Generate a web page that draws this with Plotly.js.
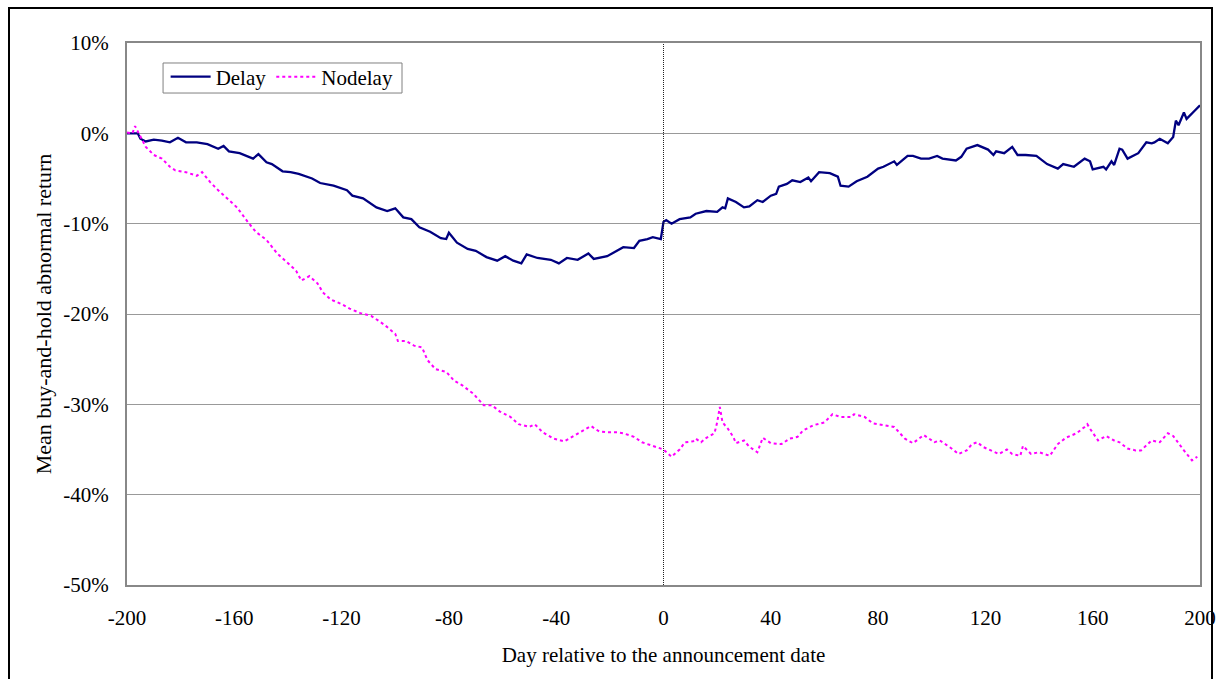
<!DOCTYPE html>
<html>
<head>
<meta charset="utf-8">
<script src="https://cdn.plot.ly/plotly-3.0.1.min.js"></script>
<style>
html,body{margin:0;padding:0;background:#fff;overflow:hidden;}
#chart{width:1216px;height:679px;}
#frame{position:absolute;left:8px;top:7px;width:1201px;height:700px;border:2px solid #000;border-bottom:none;pointer-events:none;}
</style>
</head>
<body>
<div id="chart"></div>
<div id="frame"></div>
<script>
// Delay series (day, mean BHAR in %)
const delayDays = [-200,-196,-195,-193,-190,-187,-184,-181,-178,-174,-170,-166,-164,-162,-158,-153,-151,-148,-146,-142,-139,-136,-131,-128,-123,-118,-116,-112,-107,-103,-100,-97,-94,-91,-87,-83,-81,-80,-77,-73,-70,-66,-62,-59,-56,-53,-51,-47,-42,-39,-36,-32,-28,-26,-21,-18,-15,-11,-9,-6,-4,-1,0,1,3,6,10,12,16,20,22,23,24,27,30,32,35,37,40,42,43,46,48,51,54,55,58,62,65,66,69,72,76,80,82,86,87,89,91,93,96,99,102,104,109,111,113,117,121,123,124,127,130,132,135,139,143,147,149,153,157,159,160,164,165,167,168,170,171,173,177,180,182,183,185,188,190,191,192,194,195,198,200];
const delayValues = [0.0,0.0,-0.6,-0.9,-0.7,-0.8,-1.0,-0.5,-1.0,-1.0,-1.2,-1.7,-1.4,-2.0,-2.2,-2.8,-2.3,-3.2,-3.4,-4.2,-4.3,-4.5,-5.0,-5.5,-5.8,-6.3,-6.9,-7.2,-8.2,-8.6,-8.3,-9.3,-9.5,-10.4,-10.9,-11.6,-11.7,-11.0,-12.1,-12.8,-13.0,-13.7,-14.1,-13.6,-14.1,-14.4,-13.4,-13.8,-14.0,-14.4,-13.8,-14.0,-13.3,-13.9,-13.6,-13.1,-12.6,-12.7,-11.9,-11.7,-11.5,-11.7,-9.8,-9.6,-10.0,-9.5,-9.3,-8.9,-8.6,-8.7,-8.2,-8.3,-7.2,-7.6,-8.2,-8.1,-7.4,-7.6,-6.9,-6.7,-5.9,-5.6,-5.2,-5.4,-4.9,-5.3,-4.3,-4.4,-4.8,-5.8,-5.9,-5.3,-4.8,-3.9,-3.7,-3.1,-3.5,-3.0,-2.5,-2.5,-2.8,-2.8,-2.5,-2.8,-3.0,-2.6,-1.7,-1.3,-1.8,-2.4,-2.0,-2.2,-1.5,-2.4,-2.4,-2.5,-3.4,-3.9,-3.4,-3.7,-2.8,-3.1,-4.0,-3.7,-4.0,-3.1,-3.5,-1.7,-1.8,-2.8,-2.2,-1.0,-1.1,-1.0,-0.6,-1.1,-0.4,1.4,0.9,2.3,1.6,2.5,3.1];

// Nodelay series (day, mean BHAR in %)
const nodelayDays = [-200,-198,-197,-195,-193,-190,-187,-184,-182,-178,-174,-172,-169,-166,-163,-159,-155,-152,-148,-144,-141,-137,-135,-132,-129,-127,-124,-120,-117,-113,-109,-104,-100,-99,-96,-93,-90,-88,-85,-81,-78,-75,-71,-67,-64,-61,-57,-54,-50,-48,-45,-41,-37,-34,-31,-27,-24,-21,-17,-15,-11,-8,-4,0,3,6,8,11,12,14,16,19,20,21,22,24,26,27,30,32,35,37,40,44,47,50,52,56,60,63,66,70,71,75,78,82,86,90,93,97,101,103,107,110,113,115,117,119,122,125,128,130,133,134,137,140,144,147,150,154,157,158,159,162,165,168,170,173,176,178,182,185,188,190,194,197,199];
const nodelayValues = [0.1,0.0,0.8,-0.4,-1.5,-2.4,-2.8,-3.7,-4.1,-4.3,-4.7,-4.3,-5.4,-6.3,-7.1,-8.2,-9.8,-10.9,-11.8,-13.3,-14.1,-15.2,-16.3,-15.8,-16.6,-17.6,-18.4,-18.9,-19.4,-19.9,-20.2,-21.2,-22.2,-23.0,-23.0,-23.5,-23.7,-25.1,-26.1,-26.4,-27.4,-27.9,-28.8,-30.1,-30.1,-30.8,-31.4,-32.2,-32.5,-32.2,-33.1,-33.8,-34.1,-33.6,-33.1,-32.4,-33.0,-33.1,-33.1,-33.2,-33.6,-34.2,-34.6,-35.0,-35.8,-35.0,-34.2,-34.1,-33.8,-34.2,-33.7,-33.2,-32.0,-30.3,-32.0,-32.7,-33.6,-34.3,-34.0,-34.7,-35.3,-33.7,-34.3,-34.4,-33.8,-33.6,-32.9,-32.3,-32.0,-31.1,-31.4,-31.4,-31.1,-31.4,-32.1,-32.3,-32.5,-33.8,-34.3,-33.4,-34.2,-34.0,-34.8,-35.5,-35.1,-34.4,-34.2,-34.7,-35.1,-35.5,-35.0,-35.5,-35.7,-34.6,-35.5,-35.3,-35.7,-34.4,-33.7,-33.2,-32.5,-32.2,-32.7,-34.0,-33.5,-34.0,-34.2,-34.9,-35.1,-35.1,-34.0,-34.2,-33.2,-33.5,-35.1,-36.2,-35.8];

// Axis ticks
const xTickVals = [-200,-160,-120,-80,-40,0,40,80,120,160,200];
const xTickText = ['-200','-160','-120','-80','-40','0','40','80','120','160','200'];
const yTickVals = [10,0,-10,-20,-30,-40,-50];
const yTickText = ['10%','0%','-10%','-20%','-30%','-40%','-50%'];

const serif = 'Liberation Serif, Times New Roman, serif';

const traces = [
  {x: delayDays, y: delayValues, name: 'Delay', type: 'scatter', mode: 'lines',
   line: {color: '#000080', width: 2.3}},
  {x: nodelayDays, y: nodelayValues, name: 'Nodelay', type: 'scatter', mode: 'lines',
   line: {color: '#ff00ff', width: 2, dash: 'dot'}}
];

const layout = {
  width: 1216, height: 679,
  margin: {l: 127, r: 16, t: 43, b: 94},
  paper_bgcolor: 'rgba(0,0,0,0)', plot_bgcolor: '#fff',
  font: {family: serif, color: '#000', size: 21},
  showlegend: true,
  legend: {orientation: 'h', x: 0.036, y: 0.975, xanchor: 'left', yanchor: 'top',
    borderwidth: 0, bgcolor: 'rgba(0,0,0,0)',
    font: {family: serif, size: 21, color: '#000'}, itemwidth: 40, tracegroupgap: 0},
  xaxis: {range: [-200, 200], tickvals: xTickVals, ticktext: xTickText,
    showgrid: false, zeroline: false, showline: true, mirror: true,
    linecolor: '#888', linewidth: 2, ticks: 'outside', ticklen: 13, tickcolor: 'rgba(0,0,0,0)',
    tickfont: {family: serif, size: 21, color: '#000'},
    title: {text: 'Day relative to the announcement date', font: {family: serif, size: 21, color: '#000'}, standoff: 18}},
  yaxis: {range: [-50, 10], tickvals: yTickVals, ticktext: yTickText,
    showgrid: true, gridcolor: '#999', gridwidth: 1, zeroline: false,
    showline: true, mirror: true, linecolor: '#888', linewidth: 2,
    ticks: 'outside', ticklen: 12, tickcolor: 'rgba(0,0,0,0)',
    tickfont: {family: serif, size: 21, color: '#000'},
    title: {text: 'Mean buy-and-hold abnormal return', font: {family: serif, size: 22, color: '#000'}, standoff: 6}},
  shapes: [
    {type: 'line', xref: 'x', yref: 'paper', x0: 0, x1: 0, y0: 0, y1: 1,
     line: {color: '#222', width: 1, dash: '1px,1px'}},
    {type: 'rect', xref: 'paper', yref: 'paper', x0: 0.0336, x1: 0.2563, y0: 0.9077, y1: 0.9631,
     line: {color: '#808080', width: 1}, fillcolor: 'rgba(0,0,0,0)', layer: 'above'}
  ]
};

Plotly.newPlot('chart', traces, layout, {displayModeBar: false, staticPlot: true});
</script>
</body>
</html>
